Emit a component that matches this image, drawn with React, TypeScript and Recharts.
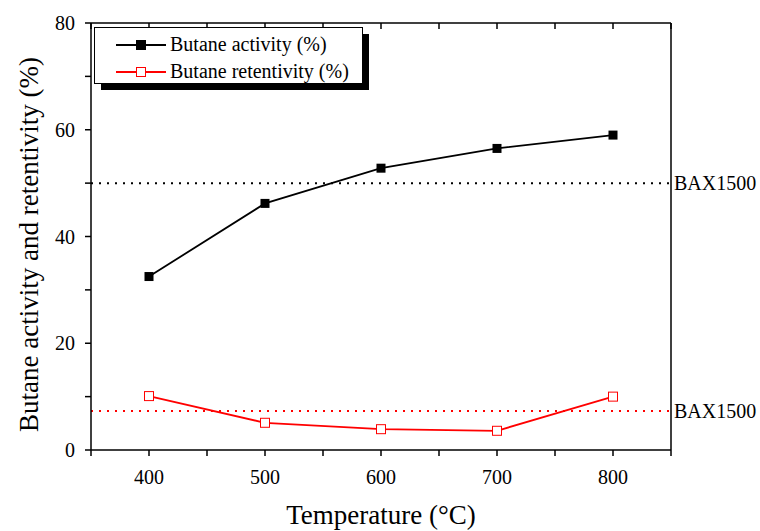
import React from 'react';
import { LineChart, Line, XAxis, YAxis, ReferenceLine, Legend, Label } from 'recharts';

const temperatures = [400, 500, 600, 700, 800];
const activity = [32.5, 46.2, 52.8, 56.5, 59.0];
const retentivity = [10.1, 5.1, 3.9, 3.6, 10.0];
const baselineActivity = 50;
const baselineRetentivity = 7.3;
const xTicks = [350, 400, 450, 500, 550, 600, 650, 700, 750, 800, 850];
const yTicks = [0, 10, 20, 30, 40, 50, 60, 70, 80];

const FONT = 'Liberation Serif';

const data = temperatures.map((t, i) => ({ t, activity: activity[i], retentivity: retentivity[i] }));

const FilledSquare = (props: any) => {
  const { cx, cy } = props;
  if (cx == null || cy == null) return <g />;
  return <rect x={cx - 4.5} y={cy - 4.5} width={9} height={9} fill="#000" />;
};

const OpenSquare = (props: any) => {
  const { cx, cy } = props;
  if (cx == null || cy == null) return <g />;
  return <rect x={cx - 4.5} y={cy - 4.5} width={9} height={9} fill="#fff" stroke="#ff0000" strokeWidth={1} />;
};

// x tick: label only on the hundreds from 400 to 800
const XTick = (props: any) => {
  const { x, y, payload } = props;
  const v = payload.value;
  if (!(v % 100 === 0 && v >= 400 && v <= 800)) return <g />;
  return (
    <text x={x} y={y + 24} textAnchor="middle" fontSize={20} fontFamily={FONT} fill="#000">
      {v}
    </text>
  );
};

const YTick = (props: any) => {
  const { x, y, payload } = props;
  const v = payload.value;
  if (v % 20 !== 0) return <g />;
  return (
    <text x={x} y={y + 7} textAnchor="end" fontSize={20} fontFamily={FONT} fill="#000">
      {v}
    </text>
  );
};

const LegendBox = () => {
  const rows = [
    { name: 'Butane activity (%)', color: '#000', filled: true },
    { name: 'Butane retentivity (%)', color: '#ff0000', filled: false },
  ];
  return (
    <svg width={276} height={65} style={{ display: 'block' }}>
      <rect x={7} y={7} width={268} height={56} fill="#000" />
      <rect x={0.5} y={0.5} width={268} height={56} fill="#fff" stroke="#000" strokeWidth={1} />
      {rows.map((r, i) => {
        const cy = 18 + i * 27;
        return (
          <g key={r.name}>
            <line x1={22} y1={cy} x2={72} y2={cy} stroke={r.color} strokeWidth={2} />
            <rect x={42.5} y={cy - 4.5} width={9} height={9} fill={r.filled ? '#000' : '#fff'} stroke={r.color} strokeWidth={1} />
            <text x={76} y={cy + 6} fontSize={20} fontFamily={FONT} fill="#000">
              {r.name}
            </text>
          </g>
        );
      })}
    </svg>
  );
};

export default function App() {
  const refLabel = { value: 'BAX1500', position: 'right' as const, fill: '#000', fontSize: 20, fontFamily: FONT, offset: 3 };
  return (
    <div style={{ position: 'absolute', left: 0, top: 0, width: 760, height: 531, background: '#fff' }}>
      <LineChart width={760} height={531} data={data} margin={{ top: 23, right: 89, bottom: 0, left: 0 }}>
        <XAxis
          dataKey="t"
          type="number"
          domain={[350, 850]}
          ticks={xTicks}
          height={81}
          stroke="#000"
          strokeWidth={1.5}
          tickSize={6}
          tickMargin={4}
          tick={<XTick />}
          interval={0}
        >
          <Label
            content={(p: any) => {
              const vb = p.viewBox;
              return (
                <text x={vb.x + vb.width / 2} y={524} textAnchor="middle" fontSize={27} fontFamily={FONT} fill="#000">
                  Temperature (°C)
                </text>
              );
            }}
          />
        </XAxis>
        <XAxis xAxisId="top" dataKey="t" type="number" orientation="top" domain={[350, 850]} ticks={xTicks} height={1} mirror stroke="#000" strokeWidth={1.5} tickSize={6} tick={() => <g />} interval={0} />
        <YAxis
          type="number"
          domain={[0, 80]}
          ticks={yTicks}
          width={91}
          stroke="#000"
          strokeWidth={1.5}
          tickSize={6}
          tickMargin={10}
          tick={<YTick />}
          interval={0}
        >
          <Label
            content={(p: any) => {
              const vb = p.viewBox;
              const cx = 38;
              const cy = vb.y + vb.height / 2 + 8;
              return (
                <text x={cx} y={cy} transform={`rotate(-90 ${cx} ${cy})`} textAnchor="middle" fontSize={27} fontFamily={FONT} fill="#000">
                  Butane activity and retentivity (%)
                </text>
              );
            }}
          />
        </YAxis>
        <YAxis yAxisId="right" type="number" orientation="right" domain={[0, 80]} ticks={yTicks} width={1} mirror stroke="#000" strokeWidth={1.5} tickSize={6} tick={() => <g />} interval={0} />
        <ReferenceLine y={baselineActivity} stroke="#000" strokeWidth={2} strokeDasharray="2 6" label={refLabel} />
        <ReferenceLine y={baselineRetentivity} stroke="#ff0000" strokeWidth={2} strokeDasharray="2 6" label={refLabel} />
        <Line dataKey="activity" name="Butane activity (%)" stroke="#000" strokeWidth={1.8} dot={<FilledSquare />} activeDot={false} isAnimationActive={false} />
        <Line dataKey="retentivity" name="Butane retentivity (%)" stroke="#ff0000" strokeWidth={1.8} dot={<OpenSquare />} activeDot={false} isAnimationActive={false} />
        <Legend
          layout="horizontal"
          verticalAlign="middle"
          align="center"
          wrapperStyle={{ top: 27, left: 94, width: 'auto' }}
          content={<LegendBox />}
        />
      </LineChart>
    </div>
  );
}
